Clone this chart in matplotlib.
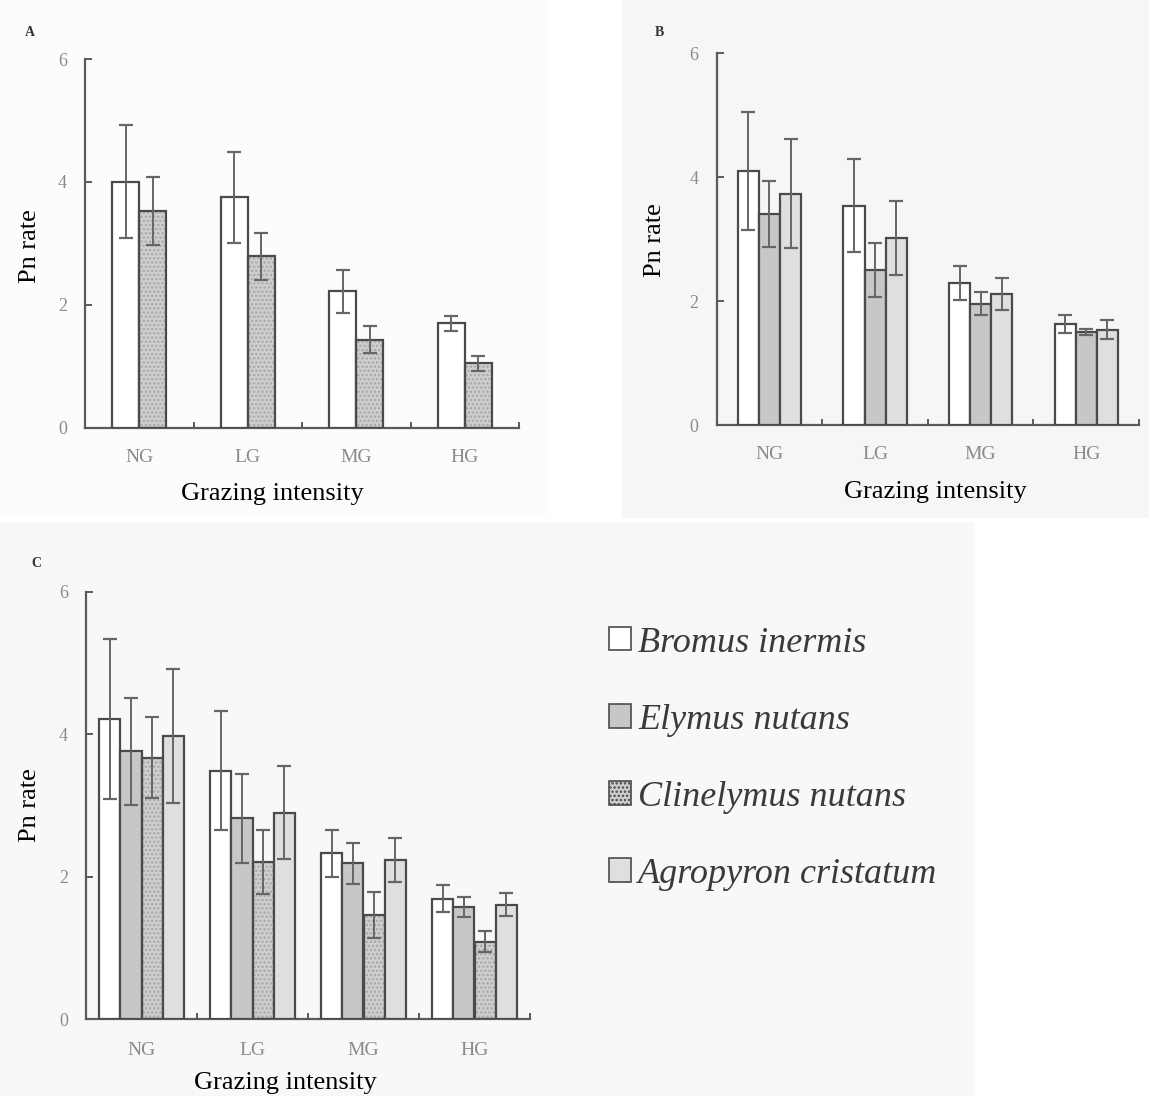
import matplotlib
matplotlib.use('Agg')
import matplotlib.pyplot as plt
from matplotlib.patches import Patch, Rectangle
import numpy as np

plt.rcParams['font.family'] = ['Liberation Serif', 'DejaVu Serif']
plt.rcParams['hatch.linewidth'] = 1.2

W, H = 1149, 1096
DPI = 100

categories = ['NG', 'LG', 'MG', 'HG']
species = ['Bromus inermis', 'Elymus nutans', 'Clinelymus nutans', 'Agropyron cristatum']
yticks = [0, 2, 4, 6]

# Panel A: Bromus inermis, Clinelymus nutans
a_bromus = [4.00, 3.75, 2.22, 1.70]
a_bromus_err = [0.92, 0.74, 0.35, 0.12]
a_clin = [3.53, 2.79, 1.43, 1.05]
a_clin_err = [0.55, 0.38, 0.22, 0.12]

# Panel B: Bromus inermis, Elymus nutans, Agropyron cristatum
b_bromus = [4.10, 3.54, 2.29, 1.63]
b_bromus_err = [0.95, 0.75, 0.28, 0.14]
b_elymus = [3.41, 2.50, 1.96, 1.50]
b_elymus_err = [0.53, 0.44, 0.19, 0.05]
b_agro = [3.73, 3.02, 2.12, 1.54]
b_agro_err = [0.88, 0.60, 0.26, 0.15]

# Panel C: all four species
c_bromus = [4.21, 3.49, 2.33, 1.69]
c_bromus_err = [1.12, 0.84, 0.33, 0.19]
c_elymus = [3.76, 2.82, 2.19, 1.58]
c_elymus_err = [0.75, 0.62, 0.29, 0.14]
c_clin = [3.67, 2.21, 1.46, 1.09]
c_clin_err = [0.57, 0.45, 0.32, 0.15]
c_agro = [3.97, 2.90, 2.23, 1.61]
c_agro_err = [0.94, 0.65, 0.31, 0.16]

EDGE = '#4a4a4a'
ERR = '#666666'
STYLE = {
    'Bromus inermis': dict(fc='#ffffff', hatch=None),
    'Elymus nutans': dict(fc='#c7c7c7', hatch=None),
    'Clinelymus nutans': dict(fc='#cfcfcf', hatch='....'),
    'Agropyron cristatum': dict(fc='#dfdfdf', hatch=None),
}

fig = plt.figure(figsize=(W / DPI, H / DPI), dpi=DPI)
fig.patch.set_facecolor('white')

# faint scan backgrounds
for (x0, y0, x1, y1, c) in [(0, 0, 548, 516, '#fcfcfc'),
                            (622, 0, 1149, 518, '#f6f6f6'),
                            (0, 522, 975, 1096, '#f8f8f8')]:
    fig.patches.append(Rectangle((x0 / W, 1 - y1 / H), (x1 - x0) / W, (y1 - y0) / H,
                                 transform=fig.transFigure, facecolor=c,
                                 edgecolor='none', zorder=-10))


def px_axes(left, top, right, bottom):
    return fig.add_axes([left / W, 1 - bottom / H, (right - left) / W, (bottom - top) / H])


def panel(ax, series, width, ylab_pad, xlab_pad):
    n = len(series)
    base = np.arange(len(categories)) + 0.5
    for i, (name, vals, errs) in enumerate(series):
        x = base + (i - (n - 1) / 2) * width
        st = STYLE[name]
        if st['hatch']:
            ax.bar(x, vals, width, color=st['fc'], edgecolor='#a8a8a8',
                   hatch=st['hatch'], linewidth=0, zorder=2)
            ax.bar(x, vals, width, fill=False, edgecolor=EDGE, linewidth=1.6, zorder=3)
        else:
            ax.bar(x, vals, width, color=st['fc'], edgecolor=EDGE, linewidth=1.6, zorder=3)
        ax.errorbar(x, vals, yerr=errs, fmt='none', ecolor=ERR, elinewidth=1.4,
                    capsize=5, capthick=1.6, zorder=4)
    ax.set_xlim(0, 4)
    ax.set_ylim(0, 6)
    ax.set_facecolor('none')
    for s in ['top', 'right']:
        ax.spines[s].set_visible(False)
    for s in ['left', 'bottom']:
        ax.spines[s].set_color('#5a5a5a')
        ax.spines[s].set_linewidth(1.6)
    ax.set_yticks(yticks)
    ax.set_yticklabels([str(t) for t in yticks])
    ax.set_xticks(base)
    ax.set_xticklabels(categories)
    ax.set_xticks([1, 2, 3, 4], minor=True)
    ax.tick_params(axis='x', which='major', length=0, pad=xlab_pad, labelsize=14,
                   labelcolor='#8a8a8a')
    ax.tick_params(axis='x', which='minor', direction='in', length=4, width=1.4,
                   color='#5a5a5a')
    ax.tick_params(axis='y', direction='in', length=5, width=1.4, color='#5a5a5a',
                   pad=ylab_pad, labelsize=13, labelcolor='#8a8a8a')


def label(x, y, s, size=19, rot=0, **kw):
    fig.text(x / W, 1 - y / H, s, ha='center', va='center', fontsize=size,
             rotation=rot, **kw)


# Panel A
axA = px_axes(85, 59, 519, 427.7)
panel(axA, [('Bromus inermis', a_bromus, a_bromus_err),
            ('Clinelymus nutans', a_clin, a_clin_err)], 0.25, 13, 15)
label(30, 33, 'A', size=10, weight='bold', color='#333333')
label(30, 246, 'Pn rate', rot=90)
label(272, 494, 'Grazing intensity')

# Panel B
axB = px_axes(716.7, 53.3, 1139, 425)
panel(axB, [('Bromus inermis', b_bromus, b_bromus_err),
            ('Elymus nutans', b_elymus, b_elymus_err),
            ('Agropyron cristatum', b_agro, b_agro_err)], 0.2, 13, 15)
label(659, 33, 'B', size=10, weight='bold', color='#333333')
label(655, 240, 'Pn rate', rot=90)
label(935, 492, 'Grazing intensity')

# Panel C
axC = px_axes(86, 591.7, 530, 1019.3)
panel(axC, [('Bromus inermis', c_bromus, c_bromus_err),
            ('Elymus nutans', c_elymus, c_elymus_err),
            ('Clinelymus nutans', c_clin, c_clin_err),
            ('Agropyron cristatum', c_agro, c_agro_err)], 0.19, 13, 16)
label(36, 563, 'C', size=10, weight='bold', color='#333333')
label(30, 805, 'Pn rate', rot=90)
label(285, 1083, 'Grazing intensity')

# Legend
handles = []
for name in species:
    st = STYLE[name]
    handles.append(Patch(facecolor=st['fc'], edgecolor=EDGE, linewidth=1.2,
                         hatch=st['hatch']))
leg = fig.legend(handles, species, loc='upper left',
                 bbox_to_anchor=(576 / W, 1 - 594 / H), frameon=False,
                 prop=dict(family='Liberation Serif', style='italic', size=26),
                 handlelength=0.62, handleheight=0.62, handletextpad=0.2,
                 labelspacing=1.22, labelcolor='#3a3a3a')

fig.savefig('out.png', dpi=DPI, facecolor=fig.get_facecolor())
